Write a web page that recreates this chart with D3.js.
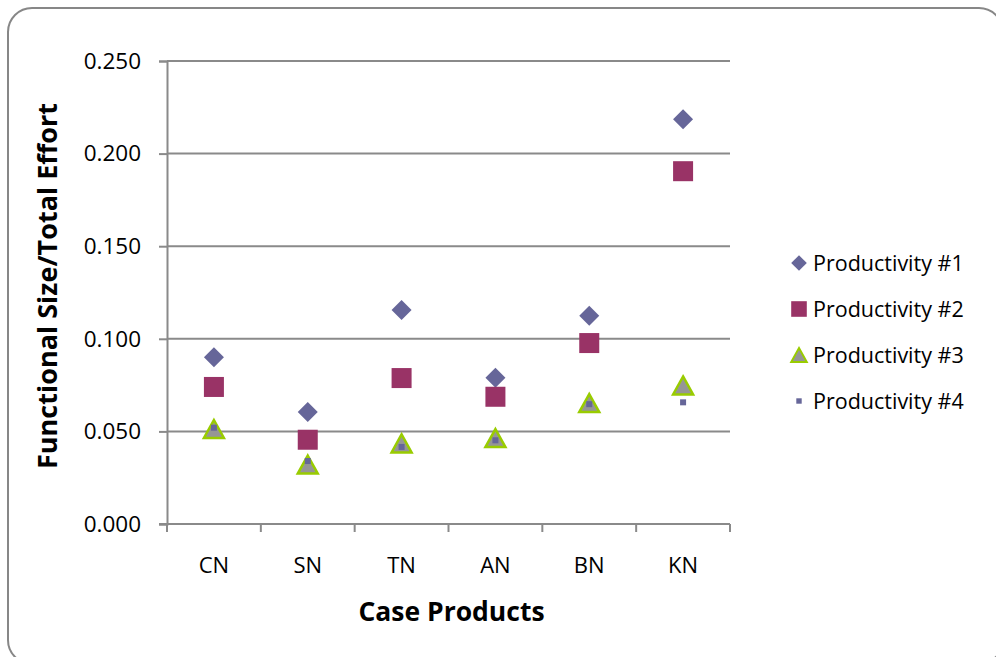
<!DOCTYPE html>
<html lang="en">
  <head>
    <meta charset="UTF-8" />
    <title>Productivity by Case Product</title>
    <script src="https://cdn.jsdelivr.net/npm/d3@7"></script>
    <style>
      body { margin: 0; background: #fff; }
      text { font-family: 'Open Sans', 'Noto Sans', sans-serif; fill: #000; }
    </style>
  </head>
  <body>
    <div id="chart"></div>
    <script>
      const categories = ['CN', 'SN', 'TN', 'AN', 'BN', 'KN']
      const productivity1 = [0.090, 0.0605, 0.1155, 0.079, 0.1125, 0.2185]
      const productivity2 = [0.074, 0.0455, 0.0788, 0.0687, 0.0977, 0.1905]
      const productivity3 = [0.0513, 0.0321, 0.0435, 0.0464, 0.0653, 0.0748]
      const productivity4 = [0.052, 0.034, 0.0416, 0.0452, 0.0647, 0.0657]
      const yTicks = [0, 0.05, 0.1, 0.15, 0.2, 0.25]
      const seriesNames = ['Productivity #1', 'Productivity #2', 'Productivity #3', 'Productivity #4']

      const width = 996
      const height = 657
      const margin = { top: 61, right: 266, bottom: 133, left: 167 }

      const svg = d3.select('#chart')
        .append('svg')
        .attr('width', width)
        .attr('height', height)

      // outer frame, runs off the right/bottom edge
      svg.append('rect')
        .attr('x', 8).attr('y', 8)
        .attr('width', 995).attr('height', 656)
        .attr('rx', 24).attr('ry', 24)
        .attr('fill', 'none')
        .attr('stroke', '#878787')
        .attr('stroke-width', 2)

      const x = d3.scaleBand()
        .domain(categories)
        .range([margin.left, width - margin.right])

      const y = d3.scaleLinear()
        .domain([0, 0.25])
        .range([height - margin.bottom, margin.top])

      // gridlines
      svg.append('g')
        .selectAll('line')
        .data(yTicks.slice(1))
        .join('line')
        .attr('x1', margin.left)
        .attr('x2', width - margin.right)
        .attr('y1', d => y(d))
        .attr('y2', d => y(d))
        .attr('stroke', '#8a8a8a')
        .attr('stroke-width', 2)

      // y axis
      const yAxis = svg.append('g')
        .attr('transform', `translate(${margin.left},0)`)
        .call(d3.axisLeft(y).tickValues(yTicks).tickFormat(d3.format('.3f')).tickSize(8).tickPadding(18))
      yAxis.select('.domain').attr('stroke', '#8a8a8a').attr('stroke-width', 2)
      yAxis.selectAll('.tick line').attr('stroke', '#8a8a8a').attr('stroke-width', 2)
      yAxis.selectAll('text').style('font-size', '22.5px').attr('fill', '#000')

      // x axis, ticks at category boundaries
      const xAxis = svg.append('g')
        .attr('transform', `translate(0,${y(0)})`)
      xAxis.append('line')
        .attr('x1', margin.left - 8)
        .attr('x2', width - margin.right)
        .attr('stroke', '#8a8a8a')
        .attr('stroke-width', 2)
      const bounds = categories.map(c => x(c)).concat([x(categories[categories.length - 1]) + x.bandwidth()])
      xAxis.selectAll('.xtick')
        .data(bounds)
        .join('line')
        .attr('class', 'xtick')
        .attr('x1', d => d).attr('x2', d => d)
        .attr('y1', 0).attr('y2', 8)
        .attr('stroke', '#8a8a8a')
        .attr('stroke-width', 2)
      xAxis.selectAll('.xlabel')
        .data(categories)
        .join('text')
        .attr('class', 'xlabel')
        .attr('x', d => x(d) + x.bandwidth() / 2)
        .attr('y', 49)
        .attr('text-anchor', 'middle')
        .style('font-size', '22px')
        .text(d => d)

      // axis titles
      svg.append('text')
        .attr('x', (margin.left + width - margin.right) / 2 + 3)
        .attr('y', 621)
        .attr('text-anchor', 'middle')
        .style('font-size', '26.5px')
        .style('font-weight', 'bold')
        .text('Case Products')

      svg.append('text')
        .attr('transform', `translate(57,${(105 + 467) / 2}) rotate(-90)`)
        .attr('text-anchor', 'middle')
        .style('font-size', '27px')
        .style('font-weight', 'bold')
        .text('Functional Size/Total Effort')

      // marker painters
      const cx = (d, i) => x(categories[i]) + x.bandwidth() / 2
      const markers = [
        g => g.append('path').attr('d', 'M0,-10L10,0L0,10L-10,0Z').attr('fill', '#666699'),
        g => g.append('rect').attr('x', -10).attr('y', -10).attr('width', 20).attr('height', 20).attr('fill', '#993366'),
        g => g.append('path').attr('d', 'M0,-9L10,9L-10,9Z').attr('fill', '#969696').attr('stroke', '#99cc00').attr('stroke-width', 2.5),
        g => g.append('rect').attr('x', -3).attr('y', -3).attr('width', 6).attr('height', 6).attr('fill', '#666699')
      ]
      const series = [productivity1, productivity2, productivity3, productivity4]

      series.forEach((values, s) => {
        svg.append('g')
          .selectAll('g')
          .data(values)
          .join('g')
          .attr('transform', (d, i) => `translate(${cx(d, i)},${y(d)})`)
          .each(function () { markers[s](d3.select(this)) })
      })

      // legend
      const legend = svg.append('g')
        .attr('transform', 'translate(799,263)')
      seriesNames.forEach((name, s) => {
        const row = legend.append('g').attr('transform', `translate(0,${s * 46})`)
        const m = row.append('g').attr('transform', s === 3 ? 'scale(0.9)' : 'scale(0.78)')
        markers[s](m)
        row.append('text')
          .attr('x', 14)
          .attr('dy', '0.35em')
          .style('font-size', '21.5px')
          .text(name)
      })
    </script>
  </body>
</html>
